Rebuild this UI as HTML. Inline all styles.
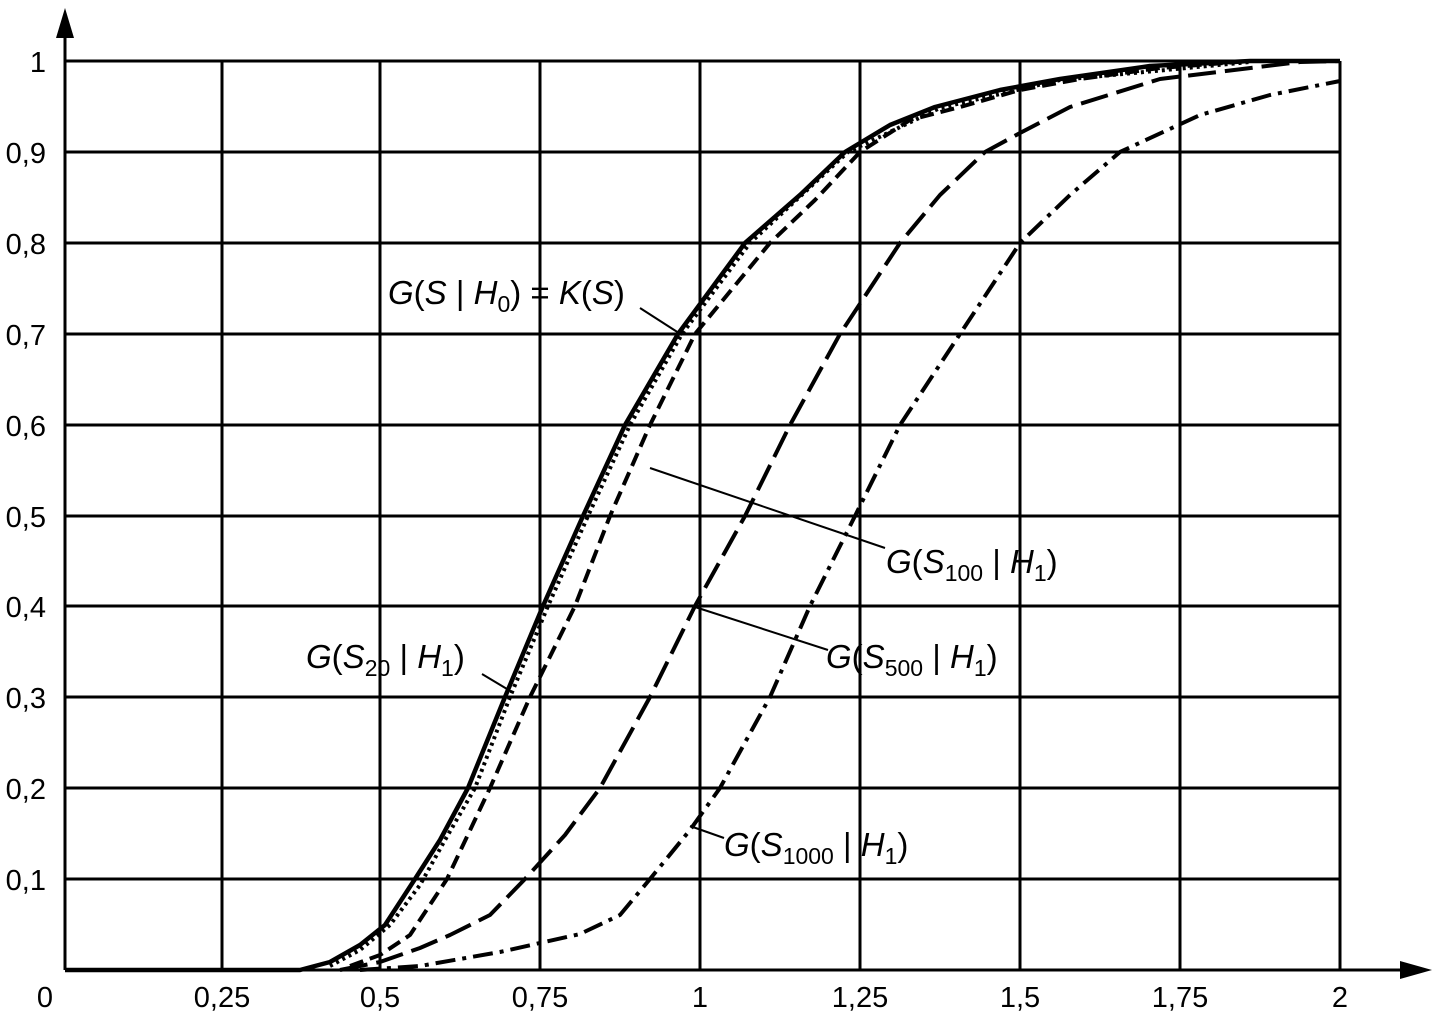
<!DOCTYPE html><html><head><style>body{margin:0;background:#fff}</style></head><body>
<svg width="1437" height="1018" xmlns="http://www.w3.org/2000/svg" font-family="Liberation Sans, Arial, sans-serif">
<g stroke="#000" stroke-width="3" fill="none">
<path d="M65 970V20M65 970H1410"/>
<path d="M222 61V970M380 61V970M540 61V970M700 61V970M860 61V970M1020 61V970M1180 61V970M1340 61V970"/>
<path d="M65 61H1340M65 152H1340M65 243H1340M65 334H1340M65 425H1340M65 516H1340M65 606H1340M65 697H1340M65 788H1340M65 879H1340"/>
</g>
<polygon points="65,8 56,38 74,38" fill="#000"/>
<polygon points="1432,970 1400,961 1400,979" fill="#000"/>
<g font-size="29" fill="#000" text-anchor="end">
<text x="46" y="72">1</text><text x="46" y="163">0,9</text><text x="46" y="254">0,8</text><text x="46" y="345">0,7</text><text x="46" y="436">0,6</text><text x="46" y="527">0,5</text><text x="46" y="617">0,4</text><text x="46" y="708">0,3</text><text x="46" y="799">0,2</text><text x="46" y="890">0,1</text>
</g>
<g font-size="29" fill="#000" text-anchor="middle">
<text x="45" y="1007">0</text><text x="222" y="1007">0,25</text><text x="380" y="1007">0,5</text><text x="540" y="1007">0,75</text><text x="700" y="1007">1</text><text x="860" y="1007">1,25</text><text x="1020" y="1007">1,5</text><text x="1180" y="1007">1,75</text><text x="1340" y="1007">2</text>
</g>
<g fill="none" stroke="#000" stroke-linejoin="round">
<polyline stroke-width="4.5" points="65,970 300,970 330,962 360,945 385,925 415,879 440,840 468,788 505,697 543,606 583,516 625,425 678,334 745,243 800,195 845,152 890,125 935,107 1000,90 1060,79 1150,66 1250,61 1340,61"/>
<polyline stroke-width="4" stroke-dasharray="3,4" points="330,966 360,950 390,925 420,885 445,840 475,788 510,697 548,606 588,516 630,425 682,334 750,243 848,152 940,108 1060,80 1250,62"/>
<polyline stroke-width="4" stroke-dasharray="14,7" points="350,966 380,955 410,935 447,879 490,788 530,697 575,606 610,516 650,425 695,334 770,243 815,200 860,152 910,120 960,107 1020,90 1080,79 1160,68 1250,61 1340,61"/>
<polyline stroke-width="4" stroke-dasharray="28,9" points="340,970 380,962 420,948 450,935 490,915 525,879 565,835 600,788 650,697 695,606 745,516 790,425 840,334 900,243 940,195 985,152 1020,133 1070,107 1160,79 1300,62 1340,61"/>
<polyline stroke-width="4" stroke-dasharray="20,7,4,7" points="360,970 420,966 500,952 580,934 620,915 650,879 690,830 720,788 770,697 810,606 855,516 900,425 960,334 1020,243 1070,195 1120,152 1200,115 1270,95 1340,81"/>
<g stroke-width="2">
<line x1="640" y1="308" x2="682" y2="335"/><line x1="650" y1="468" x2="885" y2="548"/><line x1="695" y1="607" x2="828" y2="650"/><line x1="482" y1="674" x2="512" y2="692"/><line x1="690" y1="826" x2="724" y2="838"/>
</g>
</g>
<g font-size="33" fill="#000">
<text x="388" y="304"><tspan font-style="italic">G</tspan>(<tspan font-style="italic">S</tspan> | <tspan font-style="italic">H</tspan><tspan font-size="23" dy="8">0</tspan><tspan dy="-8">) = </tspan><tspan font-style="italic">K</tspan>(<tspan font-style="italic">S</tspan>)</text>
<text x="886" y="573"><tspan font-style="italic">G</tspan>(<tspan font-style="italic">S</tspan><tspan font-size="23" dy="8">100</tspan><tspan dy="-8"> | </tspan><tspan font-style="italic">H</tspan><tspan font-size="23" dy="8">1</tspan><tspan dy="-8">)</tspan></text>
<text x="826" y="668"><tspan font-style="italic">G</tspan>(<tspan font-style="italic">S</tspan><tspan font-size="23" dy="8">500</tspan><tspan dy="-8"> | </tspan><tspan font-style="italic">H</tspan><tspan font-size="23" dy="8">1</tspan><tspan dy="-8">)</tspan></text>
<text x="306" y="668"><tspan font-style="italic">G</tspan>(<tspan font-style="italic">S</tspan><tspan font-size="23" dy="8">20</tspan><tspan dy="-8"> | </tspan><tspan font-style="italic">H</tspan><tspan font-size="23" dy="8">1</tspan><tspan dy="-8">)</tspan></text>
<text x="724" y="856"><tspan font-style="italic">G</tspan>(<tspan font-style="italic">S</tspan><tspan font-size="23" dy="8">1000</tspan><tspan dy="-8"> | </tspan><tspan font-style="italic">H</tspan><tspan font-size="23" dy="8">1</tspan><tspan dy="-8">)</tspan></text>
</g>
</svg>
</body></html>
